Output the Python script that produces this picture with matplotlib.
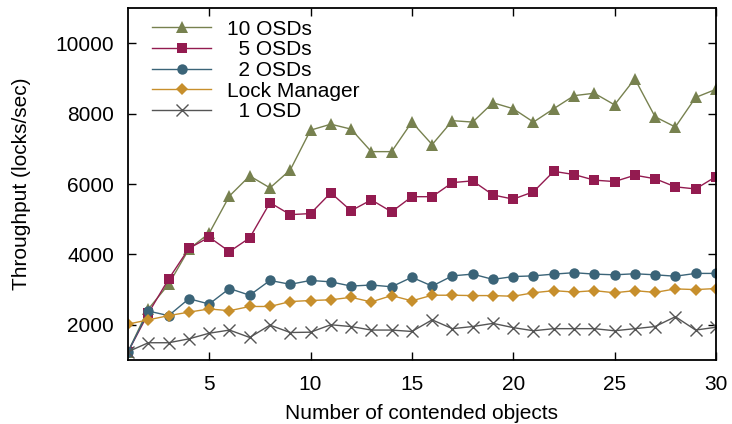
import matplotlib
matplotlib.use("Agg")
import matplotlib.pyplot as plt

plt.rcParams['font.family'] = ['Liberation Sans', 'DejaVu Sans']

# number of contended objects
objects = list(range(1, 31))

osd10 = [1236, 2450, 3150, 4150, 4600, 5660, 6230, 5890, 6400, 7530,
         7700, 7560, 6920, 6920, 7760, 7120, 7800, 7760, 8310, 8140,
         7760, 8140, 8510, 8580, 8250, 8990, 7910, 7620, 8460, 8690]
osd5 = [1236, 2330, 3300, 4170, 4490, 4080, 4470, 5470, 5130, 5160,
        5750, 5240, 5550, 5210, 5640, 5640, 6040, 6090, 5690, 5570,
        5780, 6360, 6270, 6110, 6070, 6250, 6150, 5920, 5860, 6210]
osd2 = [1236, 2390, 2260, 2740, 2590, 3030, 2840, 3260, 3150, 3260,
        3220, 3100, 3130, 3080, 3350, 3100, 3390, 3440, 3290, 3370,
        3390, 3440, 3480, 3440, 3420, 3450, 3420, 3380, 3460, 3460]
lock_mgr = [2020, 2140, 2260, 2360, 2450, 2400, 2520, 2520, 2660, 2690,
            2710, 2780, 2650, 2830, 2680, 2840, 2840, 2830, 2830, 2810,
            2910, 2970, 2930, 2970, 2910, 2970, 2920, 3020, 3000, 3030]
osd1 = [1236, 1490, 1490, 1600, 1760, 1850, 1640, 1990, 1780, 1790,
        2000, 1950, 1850, 1850, 1810, 2140, 1890, 1950, 2040, 1920,
        1830, 1890, 1890, 1890, 1830, 1890, 1950, 2230, 1850, 1930]

series = [
    ("10 OSDs", osd10, '#77814f', '^', 8),
    ("  5 OSDs", osd5, '#931b50', 's', 7.5),
    ("  2 OSDs", osd2, '#3b6478', 'o', 7.5),
    ("Lock Manager", lock_mgr, '#c78f2c', 'D', 6.3),
    ("  1 OSD", osd1, '#555555', 'x', 8),
]

fig = plt.figure(figsize=(7.32, 4.24), dpi=100)
ax = fig.add_axes([0.175, 0.151, 0.803, 0.830])

for label, values, color, marker, ms in series:
    ax.plot(objects, values, color=color, marker=marker, markersize=ms,
            linewidth=1.0, markeredgewidth=1.0 if marker == 'x' else 0,
            label=label)

ax.set_xlim(1, 30)
ax.set_ylim(1000, 11000)
ax.set_xticks([5, 10, 15, 20, 25, 30])
ax.set_yticks([2000, 4000, 6000, 8000, 10000])
ax.tick_params(direction='in', length=6, width=1, top=True, right=True,
               labelsize=15)
ax.tick_params(axis='x', pad=11)
ax.tick_params(axis='y', pad=10)
for sp in ax.spines.values():
    sp.set_linewidth(1.3)

ax.set_xlabel('Number of contended objects', fontsize=15, labelpad=7)
ax.set_ylabel('Throughput (locks/sec)', fontsize=15, labelpad=18)

ax.legend(loc='upper left', frameon=False, fontsize=15, handlelength=2.8,
          labelspacing=0.08, borderaxespad=0.2, handletextpad=0.8,
          bbox_to_anchor=(0.02, 1.003))

fig.savefig('out.png', dpi=100)
